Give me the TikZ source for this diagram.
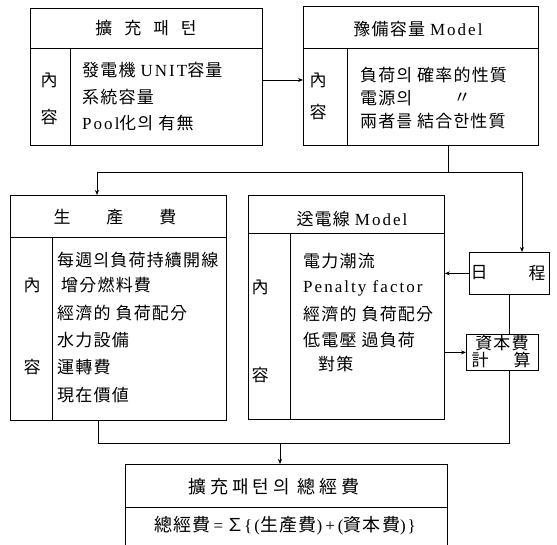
\documentclass[tikz,border=0pt]{standalone}
\usepackage{fontspec}
\setmainfont{Noto Sans CJK KR}
\newfontfamily\cjk[LetterSpace=7]{Noto Sans CJK KR}
\newfontfamily\cjkw[LetterSpace=22]{Noto Sans CJK KR}
\newfontfamily\latf[LetterSpace=12]{Liberation Serif}
\newcommand\latw[1]{{\fontsize{17}{18}\latf #1}}
\usetikzlibrary{arrows.meta}
\begin{document}
\begin{tikzpicture}[x=1pt,y=-1pt,
  box/.style={draw, line width=0.8pt, inner sep=0pt, anchor=north west},
  txt/.style={anchor=west, inner sep=0pt, font=\fontsize{17}{18}\cjk},
  ctr/.style={anchor=center, inner sep=0pt, font=\fontsize{17}{18}\cjk},
  wide/.style={anchor=center, inner sep=0pt, font=\fontsize{18}{20}\cjkw},
  ln/.style={line width=0.8pt},
  arr/.style={line width=0.8pt, -{Stealth[length=5pt,width=4pt]}}]
\useasboundingbox (0,0) rectangle (557,545);
% boxes
\node[box, minimum width=232pt, minimum height=137pt] (b1) at (30,8) {};
\node[box, minimum width=235pt, minimum height=139pt] (b2) at (303,6) {};
\node[box, minimum width=216pt, minimum height=225pt] (b3) at (10,195) {};
\node[box, minimum width=196pt, minimum height=224pt] (b4) at (248,195) {};
\node[box, minimum width=80pt, minimum height=42pt] (d) at (469,252) {};
\node[box, minimum width=72pt, minimum height=36pt] (c) at (466,334) {};
\node[box, minimum width=322pt, minimum height=95pt] (e) at (125,464) {};
% dividers
\draw[ln] (30,48) -- (262,48); \draw[ln] (70,48) -- (70,145);
\draw[ln] (303,48) -- (538,48); \draw[ln] (347,48) -- (347,145);
\draw[ln] (10,237) -- (226,237); \draw[ln] (52,237) -- (52,420);
\draw[ln] (248,233) -- (444,233); \draw[ln] (290,233) -- (290,419);
\draw[ln] (125,507) -- (447,507);
% box 1
\node[ctr] (t1) at (146,28) {擴\hspace{12pt}充\hspace{12pt}패\hspace{12pt}턴};
\node[ctr] (k1a) at (49,80) {內};
\node[ctr] (k1b) at (49,117) {容};
\node[txt] (l1a) at (82,70) {發電機 \latw{UNIT}容量};
\node[txt] (l1b) at (82,97) {系統容量};
\node[txt] (l1c) at (82,123) {\latw{Pool}化의 有無};
% box 2
\node[ctr] (t2) at (418,29) {豫備容量 \latw{Model}};
\node[ctr] (k2a) at (318,80) {內};
\node[ctr] (k2b) at (318,112) {容};
\node[txt] (l2a) at (360,75) {負荷의 確率的性質};
\node[txt] (l2b) at (360,98) {電源의};
\node[ctr] (l2c) at (462,98) {〃};
\node[txt] (l2d) at (360,121) {兩者를 結合한性質};
% box 3
\node[ctr] (t3) at (115,217) {生\hspace{36pt}產\hspace{36pt}費};
\node[ctr] (k3a) at (32,285) {內};
\node[ctr] (k3b) at (32,367) {容};
\node[txt] (l3a) at (57,260) {每週의負荷持續開線};
\node[txt] (l3b) at (61,285) {增分燃料費};
\node[txt] (l3c) at (57,313) {經濟的 負荷配分};
\node[txt] (l3d) at (57,340) {水力設備};
\node[txt] (l3e) at (57,367) {運轉費};
\node[txt] (l3f) at (57,395) {現在價値};
% box 4
\node[ctr] (t4) at (352,219) {送電線 \latw{Model}};
\node[ctr] (k4a) at (260,287) {內};
\node[ctr] (k4b) at (260,375) {容};
\node[txt] (l4a) at (303,261) {電力潮流};
\node[txt] (l4b) at (303,288) {\latw{Penalty factor}};
\node[txt] (l4c) at (303,314) {經濟的 負荷配分};
\node[txt] (l4d) at (303,340) {低電壓 過負荷};
\node[txt] (l4e) at (318,364) {對策};
% schedule / capital
\node[ctr] (dn1) at (479,273) {日};
\node[ctr] (dn2) at (537,273) {程};
\node[ctr] (cn1) at (502,343) {資本費};
\node[ctr] (cn2) at (480,360) {計};
\node[ctr] (cn3) at (522,360) {算};
% box 5
\node[wide] (t5) at (274,487) {擴充패턴의 總經費};
\node[ctr, font=\fontsize{18}{20}\cjk] (f5) at (285,526) {總經費\latw{\hspace{3pt}=\hspace{3pt}}∑\latw{\{(}生產費\latw{)\hspace{3pt}+\hspace{3pt}(}資本費\latw{)\}}};
% connectors
\coordinate (a1) at (262,80);
\draw[arr] (a1) -- (a1 -| b2.west);
\coordinate (s1) at (448,145);
\coordinate (h1) at (448,172);
\coordinate (hl) at (97,172);
\coordinate (hr) at (522,172);
\draw[ln] (s1) -- (h1);
\draw[ln] (hl) -- (hr);
\draw[arr] (hl) -- (hl |- b3.north);
\draw[arr] (hr) -- (hr |- d.north);
\draw[arr] (d.west) -- (d.west -| b4.east);
\draw[ln] (d.south) -- (d.south |- c.north);
\draw[arr] (c.west -| b4.east) -- (c.west);
\coordinate (bl) at (98,443);
\coordinate (br) at (509,443);
\coordinate (m) at (280,443);
\draw[ln] (b3.south -| bl) -- (bl) -- (br) -- (br |- c.south);
\draw[arr] (m) -- (m |- e.north);
\end{tikzpicture}
\end{document}
